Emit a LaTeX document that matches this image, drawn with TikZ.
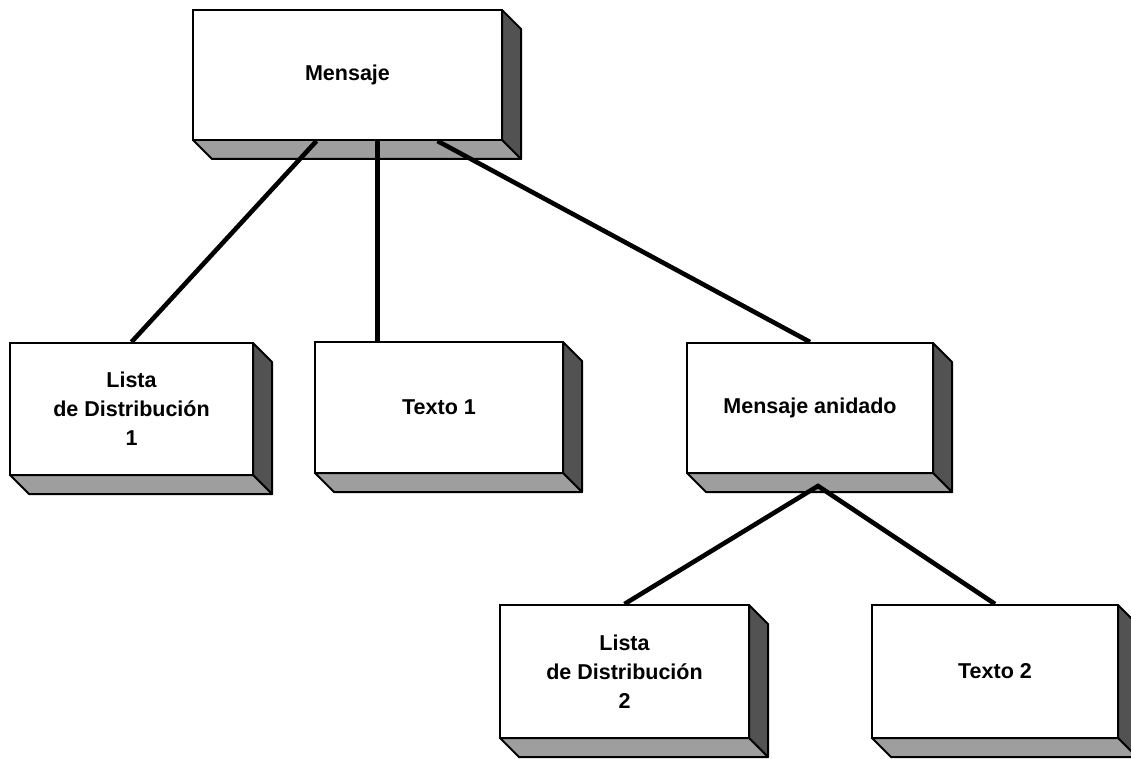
\documentclass[tikz,border=0pt]{standalone}
\usepackage{fontspec}
\setmainfont{Liberation Sans}
\usetikzlibrary{calc}
\begin{document}
\begin{tikzpicture}[x=1pt,y=-1pt,
  face/.style={draw=black, line width=2pt, fill=white, align=center,
    font=\bfseries\fontsize{21.5}{29}\selectfont, inner sep=0pt},
  sideface/.style={draw=black, line width=2pt, fill=black!68, line join=round},
  baseface/.style={draw=black, line width=2pt, fill=black!38, line join=round},
  link/.style={line width=4.6pt}]
\useasboundingbox (0,0) rectangle (1131,759);

% raised box: name, left, top, right, bottom, text
\newcommand\raisedbox[6]{%
  \draw[sideface] (#4,#3) -- ({#4+19},{#3+19}) -- ({#4+19},{#5+19}) -- (#4,#5) -- cycle;
  \draw[baseface] (#2,#5) -- (#4,#5) -- ({#4+19},{#5+19}) -- ({#2+19},{#5+19}) -- cycle;
  \node[face, minimum width={#4-#2}, minimum height={#5-#3}] (#1)
    at ({(#2+#4)/2},{(#3+#5)/2}) {#6};
}

\raisedbox{mensaje}{193}{10}{502}{140}{Mensaje}
\raisedbox{lista1}{10}{343}{253}{475}{Lista\\de Distribución\\1}
\raisedbox{texto1}{315}{342}{563}{473}{Texto 1}
\raisedbox{anidado}{687}{343}{933}{473}{Mensaje anidado}
\raisedbox{lista2}{500}{605}{749}{738}{Lista\\de Distribución\\2}
\raisedbox{texto2}{872}{605}{1118}{738}{Texto 2}

% connectors
\draw[link] ([xshift=-31pt]mensaje.south) -- (lista1.north);
\draw[link] ([xshift=30pt]mensaje.south) coordinate (m2) -- (m2 |- texto1.north);
\draw[link] ([xshift=90pt]mensaje.south) -- (anidado.north);
\coordinate (fork) at ([xshift=8pt,yshift=-12pt]anidado.south);
\draw[link] (lista2.north) -- (fork) -- (texto2.north);
\end{tikzpicture}
\end{document}
